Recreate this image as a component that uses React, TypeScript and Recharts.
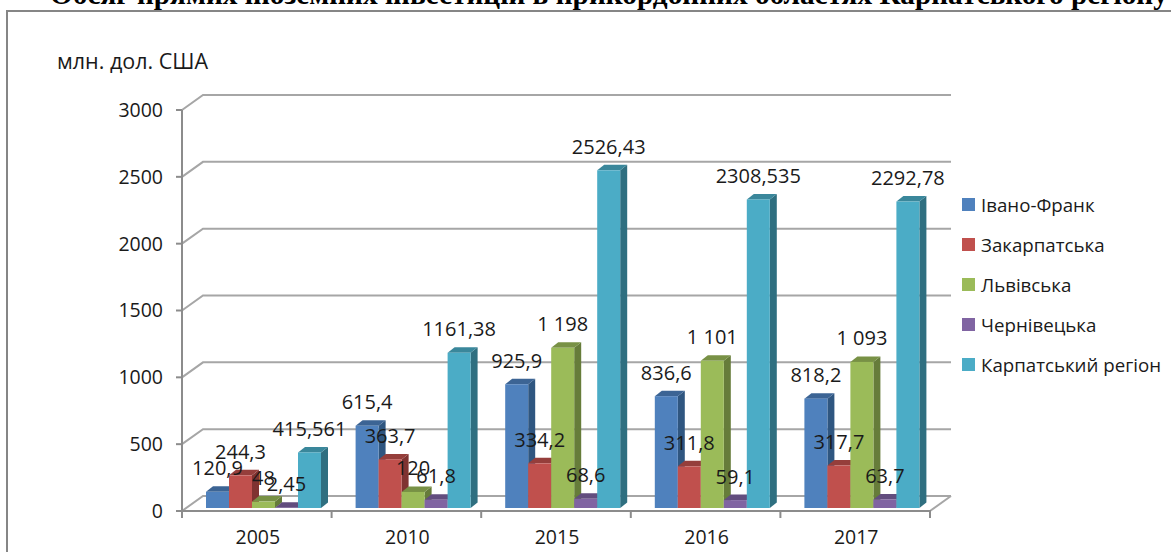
import React from "react";
import {
  BarChart,
  Bar,
  XAxis,
  YAxis,
  CartesianGrid,
  Legend,
  LabelList,
} from "recharts";

const years = ["2005", "2010", "2015", "2016", "2017"];
const frankivsk = [120.9, 615.4, 925.9, 836.6, 818.2];
const zakarpattia = [244.3, 363.7, 334.2, 311.8, 317.7];
const lviv = [48, 120, 1198, 1101, 1093];
const chernivtsi = [2.45, 61.8, 68.6, 59.1, 63.7];
const carpathian = [415.561, 1161.38, 2526.43, 2308.535, 2292.78];
const yTicks = [0, 500, 1000, 1500, 2000, 2500, 3000];

const data = years.map((year, i) => ({
  year,
  frankivsk: frankivsk[i],
  zakarpattia: zakarpattia[i],
  lviv: lviv[i],
  chernivtsi: chernivtsi[i],
  carpathian: carpathian[i],
}));

// name, key, front / top / side colours
const series = [
  { key: "frankivsk", name: "Івано-Франк", fill: "#4f81bd", top: "#3c6494", side: "#2f5680" },
  { key: "zakarpattia", name: "Закарпатська", fill: "#c0504d", top: "#953e3b", side: "#7f3331" },
  { key: "lviv", name: "Львівська", fill: "#9bbb59", top: "#789145", side: "#667c3a" },
  { key: "chernivtsi", name: "Чернівецька", fill: "#8064a2", top: "#624d7e", side: "#54406c" },
  { key: "carpathian", name: "Карпатський регіон", fill: "#4bacc6", top: "#3a879b", side: "#2f6f80" },
];

const FONT = "'Open Sans', sans-serif";
const AXIS = "#8c8c8c";
const GRID = "#a6a6a6";
// 3d offsets: back wall, and bar depth
const WALL_X = 21;
const WALL_Y = -15;
const BAR_X = 7;
const BAR_Y = -5.5;
const LIFT = 3;

const formatValue = (v: number, spaced: boolean) => {
  if (spaced && v >= 1000) {
    const s = String(v);
    return s.slice(0, -3) + " " + s.slice(-3);
  }
  return String(v).replace(".", ",");
};

const Bar3D = (props: any) => {
  const { x, y, width, height, fill, top, side } = props;
  const left = x + BAR_X;
  const ty = y - LIFT;
  const right = left + width;
  const by = ty + height;
  return (
    <g>
      <polygon
        points={`${right},${ty} ${right + BAR_X},${ty + BAR_Y} ${right + BAR_X},${by + BAR_Y} ${right},${by}`}
        fill={side}
      />
      <polygon
        points={`${left},${ty} ${left + BAR_X},${ty + BAR_Y} ${right + BAR_X},${ty + BAR_Y} ${right},${ty}`}
        fill={top}
      />
      <rect x={left} y={ty} width={width} height={height} fill={fill} />
    </g>
  );
};

const renderGridLine = (props: any) => {
  const { x1, x2, y1 } = props;
  const isFloor = y1 > 500;
  return (
    <g key={`wall-${y1}`}>
      <polyline
        points={`${x1},${y1} ${x1 + WALL_X},${y1 + WALL_Y} ${x2 + WALL_X},${y1 + WALL_Y}`}
        fill="none"
        stroke={GRID}
        strokeWidth={2}
      />
      {isFloor && (
        <line
          x1={x2}
          y1={y1}
          x2={x2 + WALL_X}
          y2={y1 + WALL_Y}
          stroke={GRID}
          strokeWidth={2}
        />
      )}
    </g>
  );
};

const renderXTick = (props: any) => {
  const { x, y, payload, index } = props;
  const half = payload.offset;
  const base = y - 8;
  return (
    <g>
      <line x1={x - half} y1={base - 1} x2={x - half} y2={base + 7} stroke={AXIS} strokeWidth={2} />
      {index === years.length - 1 && (
        <line x1={x + half} y1={base - 1} x2={x + half} y2={base + 7} stroke={AXIS} strokeWidth={2} />
      )}
      <text x={x + 1} y={base + 33} textAnchor="middle" fontFamily={FONT} fontSize={19.5} fill="#1a1a1a">
        {payload.value}
      </text>
    </g>
  );
};

const renderLegend = (props: any) => (
  <div>
    {props.payload.map((item: any) => (
      <div
        key={item.value}
        style={{
          display: "flex",
          alignItems: "center",
          height: 40,
          fontFamily: FONT,
          fontSize: 18.7,
          color: "#1a1a1a",
          whiteSpace: "nowrap",
        }}
      >
        <span style={{ width: 13, height: 13, background: item.color, marginRight: 6 }} />
        {item.value}
      </div>
    ))}
  </div>
);

const valueLabel = (spaced: boolean) => (props: any) => {
  const { x, y, width, value } = props;
  return (
    <text
      x={x + width / 2 + BAR_X}
      y={y - LIFT - 24}
      textAnchor="middle"
      dominantBaseline="central"
      fontFamily={FONT}
      fontSize={20}
      fill="#1a1a1a"
    >
      {formatValue(value, spaced)}
    </text>
  );
};

export default function App() {
  return (
    <div
      style={{
        position: "absolute",
        left: 0,
        top: 0,
        width: 1171,
        height: 552,
        overflow: "hidden",
        background: "#fff",
      }}
    >
      <div
        style={{
          position: "absolute",
          left: 50,
          top: -22,
          fontFamily: "'Liberation Serif', serif",
          fontWeight: "bold",
          fontSize: 29.3,
          lineHeight: "32px",
          color: "#000",
          whiteSpace: "nowrap",
        }}
      >
        Обсяг прямих іноземних інвестицій в прикордонних областях Карпатського регіону
      </div>
      <div
        style={{
          position: "absolute",
          left: 6,
          top: 10,
          width: 1300,
          height: 700,
          border: "2px solid #868686",
        }}
      />
      <div
        style={{
          position: "absolute",
          left: 57,
          top: 46,
          fontFamily: FONT,
          fontSize: 21.5,
          color: "#1a1a1a",
        }}
      >
        млн. дол. США
      </div>
      <div style={{ position: "absolute", left: 0, top: 0 }}>
        <BarChart
          width={1171}
          height={552}
          data={data}
          barSize={23}
          barGap={0}
          margin={{ top: 110, right: 32, bottom: 0, left: 0 }}
        >
          <CartesianGrid vertical={false} horizontal={renderGridLine} />
          <XAxis
            dataKey="year"
            height={41}
            tickLine={false}
            axisLine={{ stroke: AXIS, strokeWidth: 2 }}
            tick={renderXTick}
            interval={0}
          />
          <YAxis
            width={182}
            domain={[0, 3000]}
            ticks={yTicks}
            tickSize={6}
            tickMargin={13}
            axisLine={{ stroke: AXIS, strokeWidth: 2 }}
            tickLine={{ stroke: AXIS, strokeWidth: 2 }}
            tick={{ fontFamily: FONT, fontSize: 19.5, fill: "#1a1a1a" }}
          />
          <Legend
            layout="vertical"
            align="right"
            verticalAlign="top"
            itemSorter={null}
            content={renderLegend}
            wrapperStyle={{ left: 962, top: 184, width: 209 }}
          />
          {series.map((s) => (
            <Bar
              key={s.key}
              dataKey={s.key}
              name={s.name}
              fill={s.fill}
              isAnimationActive={false}
              shape={(p: any) => <Bar3D {...p} fill={s.fill} top={s.top} side={s.side} />}
            >
              <LabelList dataKey={s.key} content={valueLabel(s.key === "lviv")} />
            </Bar>
          ))}
        </BarChart>
      </div>
    </div>
  );
}
